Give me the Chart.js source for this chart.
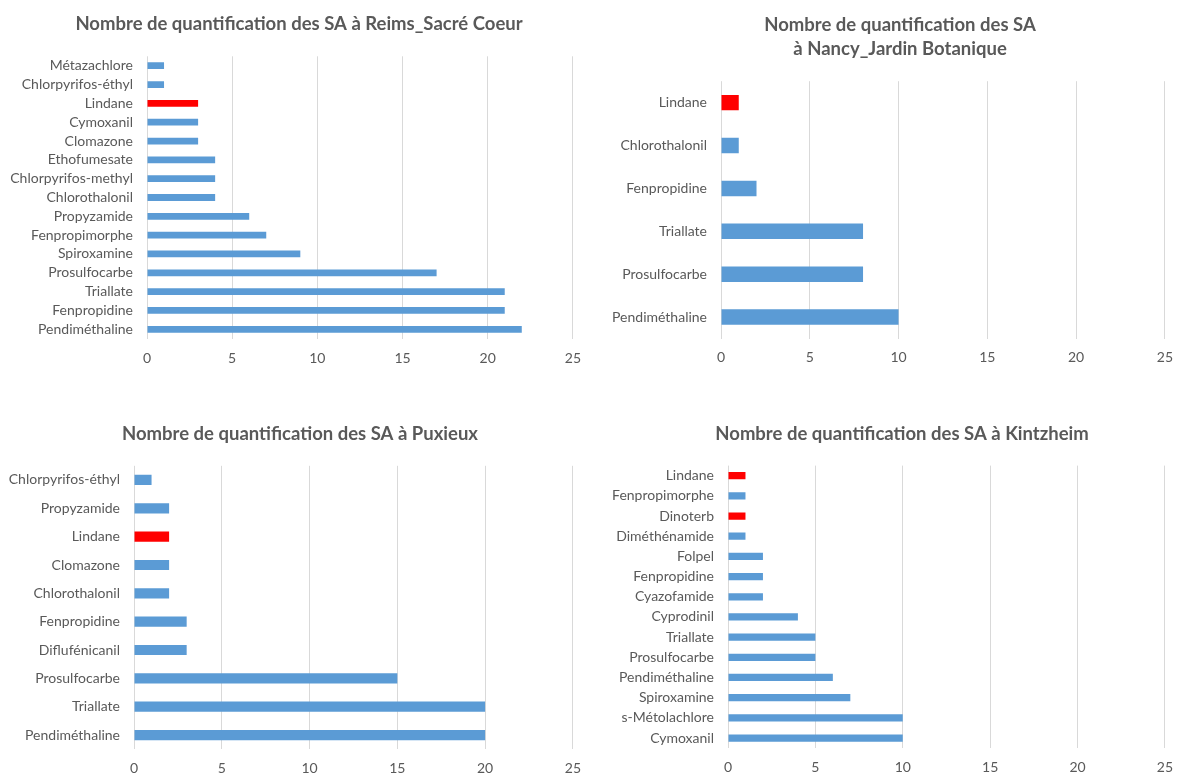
<!DOCTYPE html>
<html>
<head>
<meta charset="utf-8">
<script src="https://cdn.jsdelivr.net/npm/chart.js@4.4.1/dist/chart.umd.min.js"></script>
<style>
  html, body { margin: 0; padding: 0; background: #fff; overflow: hidden; }
  body { width: 1184px; height: 774px; position: relative; }
  .box { position: absolute; }
</style>
</head>
<body>
<div class="box" style="left:0;top:0;width:592px;height:385px"><canvas id="c1"></canvas></div>
<div class="box" style="left:592px;top:0;width:592px;height:385px"><canvas id="c2"></canvas></div>
<div class="box" style="left:0;top:396px;width:592px;height:378px"><canvas id="c3"></canvas></div>
<div class="box" style="left:592px;top:396px;width:592px;height:378px"><canvas id="c4"></canvas></div>
<script>
// Reims_Sacré Coeur
var reimsLabels = ['Métazachlore', 'Chlorpyrifos-éthyl', 'Lindane', 'Cymoxanil', 'Clomazone', 'Ethofumesate',
  'Chlorpyrifos-methyl', 'Chlorothalonil', 'Propyzamide', 'Fenpropimorphe', 'Spiroxamine', 'Prosulfocarbe',
  'Triallate', 'Fenpropidine', 'Pendiméthaline'];
var reimsValues = [1, 1, 3, 3, 3, 4, 4, 4, 6, 7, 9, 17, 21, 21, 22];

// Nancy_Jardin Botanique
var nancyLabels = ['Lindane', 'Chlorothalonil', 'Fenpropidine', 'Triallate', 'Prosulfocarbe', 'Pendiméthaline'];
var nancyValues = [1, 1, 2, 8, 8, 10];

// Puxieux
var puxieuxLabels = ['Chlorpyrifos-éthyl', 'Propyzamide', 'Lindane', 'Clomazone', 'Chlorothalonil', 'Fenpropidine',
  'Diflufénicanil', 'Prosulfocarbe', 'Triallate', 'Pendiméthaline'];
var puxieuxValues = [1, 2, 2, 2, 2, 3, 3, 15, 20, 20];

// Kintzheim
var kintzLabels = ['Lindane', 'Fenpropimorphe', 'Dinoterb', 'Diméthénamide', 'Folpel', 'Fenpropidine', 'Cyazofamide',
  'Cyprodinil', 'Triallate', 'Prosulfocarbe', 'Pendiméthaline', 'Spiroxamine', 's-Métolachlore', 'Cymoxanil'];
var kintzValues = [1, 1, 1, 1, 2, 2, 2, 4, 5, 5, 6, 7, 10, 10];

var xTicks = [0, 5, 10, 15, 20, 25];
var redSubstances = ['Lindane', 'Dinoterb']; // substances en rouge

var BLUE = '#5B9BD5';
var RED = '#FF0000';
var TXT = '#595959';
var FONT = 'Lato, "Open Sans", sans-serif';

Chart.defaults.font.family = FONT;
Chart.defaults.color = TXT;

// titre dessiné à la main pour pouvoir le centrer où on veut
var titrePlugin = {
  id: 'titreSA',
  afterDraw: function (chart, args, opts) {
    var ctx = chart.ctx;
    ctx.save();
    ctx.font = 'bold 18.5px ' + FONT;
    ctx.fillStyle = TXT;
    ctx.textAlign = 'center';
    ctx.textBaseline = 'middle';
    opts.lines.forEach(function (t, i) {
      ctx.fillText(t, opts.x, opts.y + i * opts.step);
    });
    ctx.restore();
  }
};

function makeChart(id, title, labels, values, lay) {
  var ctx = document.getElementById(id).getContext('2d');
  return new Chart(ctx, {
    type: 'bar',
    data: {
      labels: labels,
      datasets: [{
        data: values,
        backgroundColor: labels.map(function (l) { return redSubstances.indexOf(l) >= 0 ? RED : BLUE; }),
        borderWidth: 0,
        categoryPercentage: 1,
        barPercentage: 0.36
      }]
    },
    plugins: [titrePlugin],
    options: {
      indexAxis: 'y',
      responsive: true,
      maintainAspectRatio: false,
      animation: false,
      layout: { padding: { left: 0, right: lay.padR, top: lay.top, bottom: 0 } },
      plugins: {
        legend: { display: false },
        tooltip: { enabled: false },
        title: { display: false },
        titreSA: { lines: title, x: lay.tx, y: lay.ty, step: 24 }
      },
      scales: {
        x: {
          min: xTicks[0],
          max: xTicks[xTicks.length - 1],
          afterBuildTicks: function (scale) {
            scale.ticks = xTicks.map(function (v) { return { value: v }; });
          },
          afterFit: function (scale) { scale.height = lay.xH; },
          grid: { color: '#D9D9D9', drawTicks: false },
          border: { display: false },
          ticks: { padding: 11, color: TXT, font: { size: 14 } }
        },
        y: {
          afterFit: function (scale) { scale.width = lay.yW; },
          grid: { display: false, drawTicks: false },
          border: { display: false },
          ticks: { padding: 14, color: TXT, font: { size: 14 }, autoSkip: false }
        }
      }
    }
  });
}

makeChart('c1', ['Nombre de quantification des SA à Reims_Sacré Coeur'], reimsLabels, reimsValues,
  { padR: 18, yW: 147, xH: 46.3, top: 56.3, tx: 299, ty: 24 });
makeChart('c2', ['Nombre de quantification des SA', 'à Nancy_Jardin Botanique'], nancyLabels, nancyValues,
  { padR: 8, yW: 129, xH: 46.5, top: 81.2, tx: 308, ty: 25 });
makeChart('c3', ['Nombre de quantification des SA à Puxieux'], puxieuxLabels, puxieuxValues,
  { padR: 19, yW: 134, xH: 24.8, top: 69.8, tx: 300, ty: 38 });
makeChart('c4', ['Nombre de quantification des SA à Kintzheim'], kintzLabels, kintzValues,
  { padR: 11, yW: 136, xH: 25.9, top: 69.6, tx: 310, ty: 38 });
</script>
</body>
</html>
